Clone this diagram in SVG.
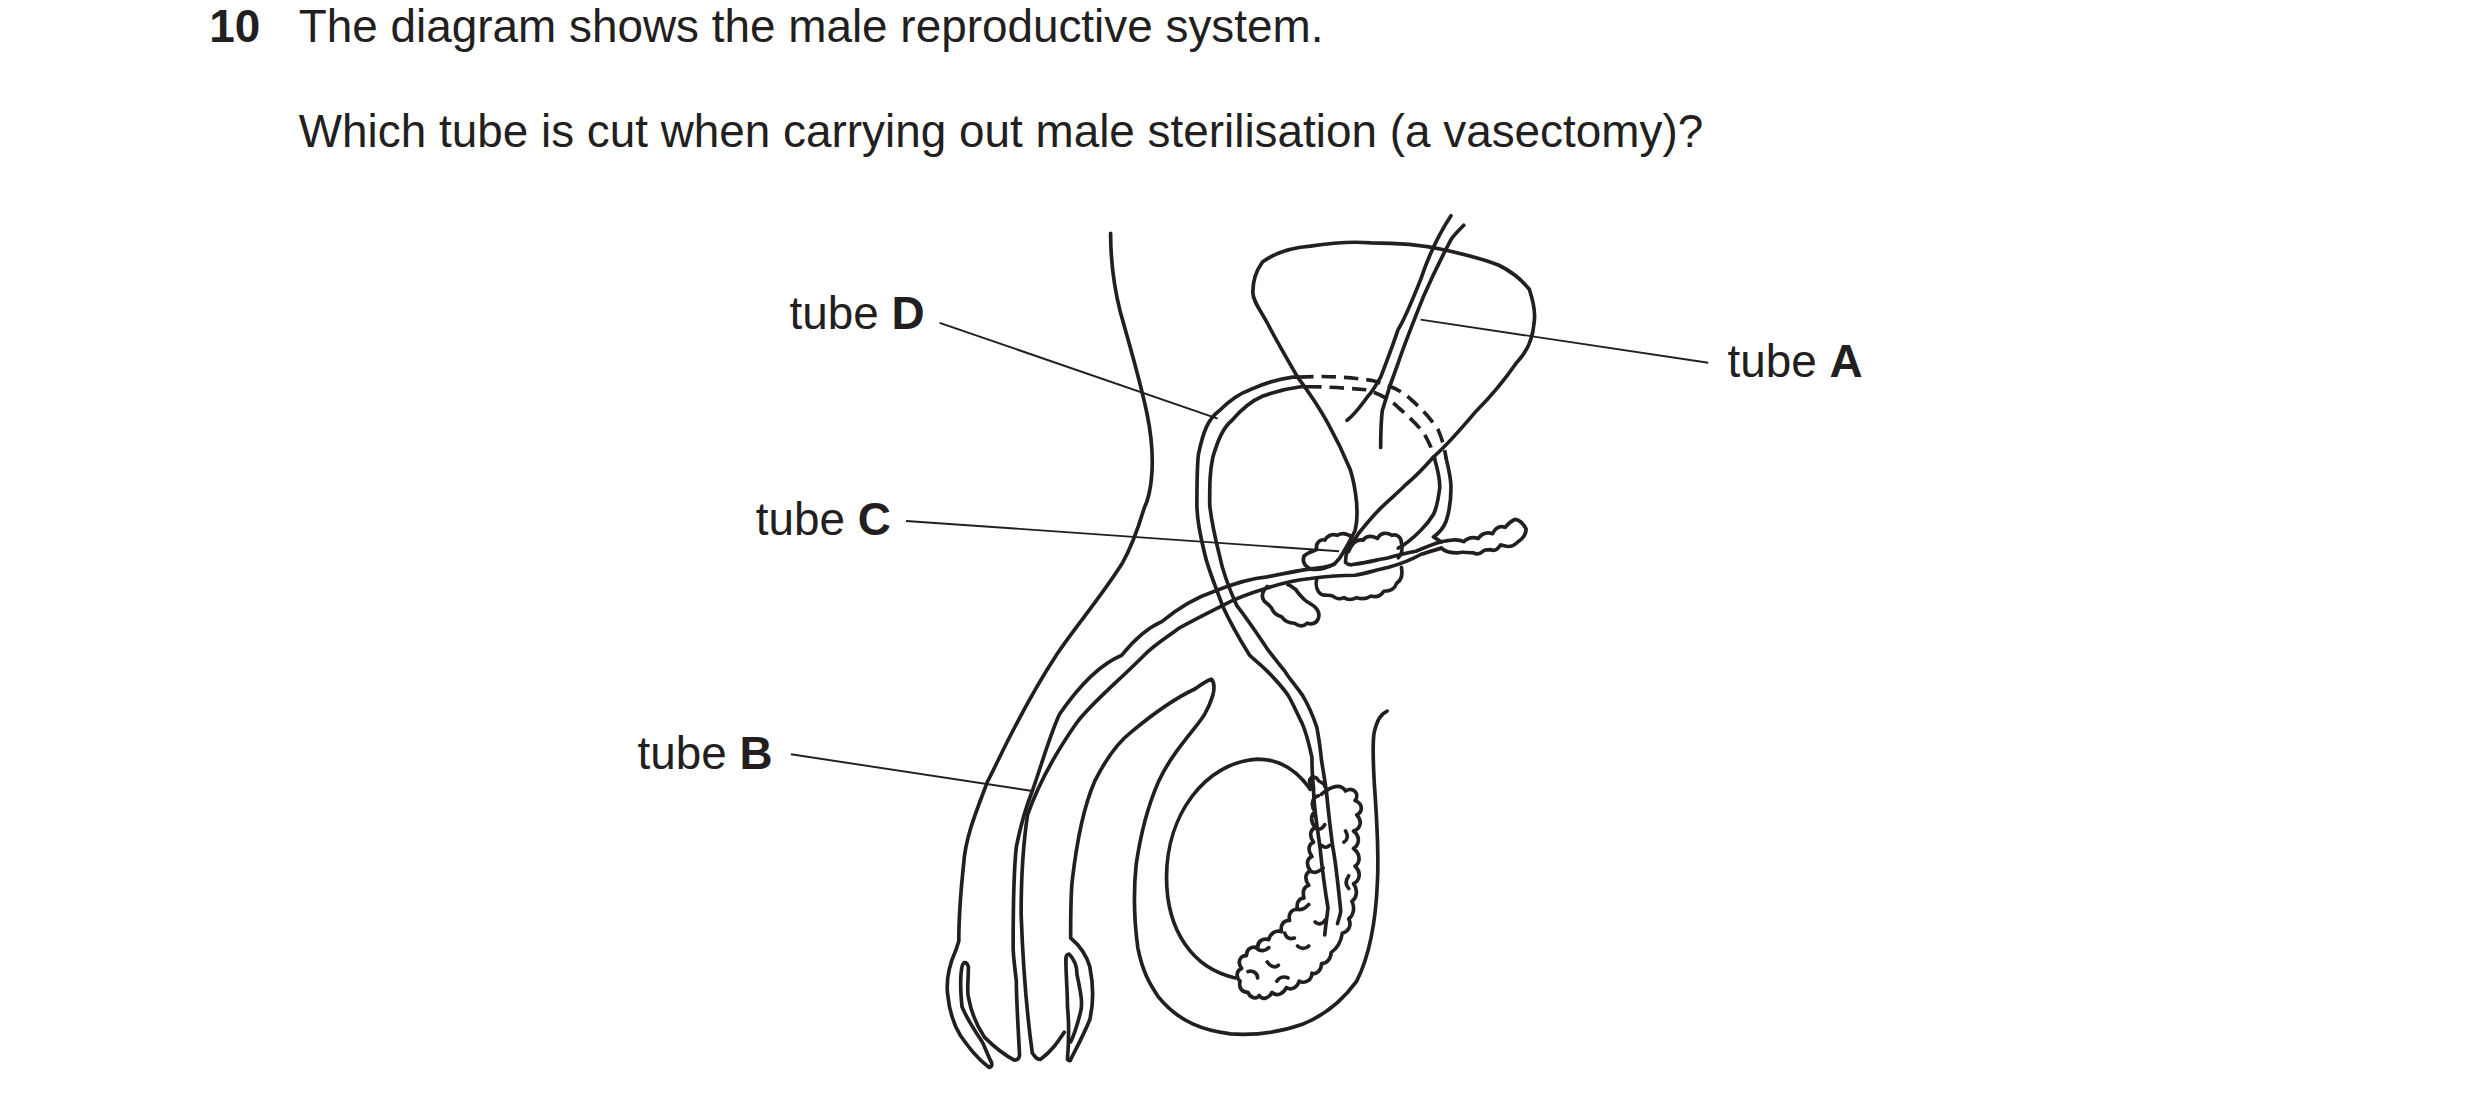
<svg xmlns="http://www.w3.org/2000/svg" width="2480" height="1102" viewBox="0 0 2480 1102">
<style>
.t{font-family:"Liberation Sans",Arial,sans-serif;font-size:28.7px;fill:#231f20}
.b{font-weight:bold}
.s{fill:none;stroke:#231f20;stroke-width:2.3;stroke-linecap:round;stroke-linejoin:round}
.d{stroke-dasharray:9 5;stroke-linecap:butt}
.l{fill:none;stroke:#231f20;stroke-width:1.2}
</style>
<rect width="2480" height="1102" fill="#fff"/>
<g transform="scale(1.598)">
<g id="question">
<text class="t b" x="131" y="26">10</text>
<text class="t" x="187" y="26">The diagram shows the male reproductive system.</text>
<text class="t" x="187" y="92">Which tube is cut when carrying out male sterilisation (a vasectomy)?</text>
</g>
<g id="drawing">
<path class="s" d="M695,146 C695,165 697,179 701,195 C708,220 714,240 718,260 C724,290 720,310 716,318 C710,338 706,346 702,353 C688,375 673,392 661,410 C638,445 623,480 618,489 C610,510 604,525 603,541 C601,560 600,578 600,589 L598,595 C594,604 592,613 593,622 C594,632 596,640 601,648 C606,655 611,662 619,668 C622,667 620,664 620,664 C617,658 616,654 614,651 C608,642 604,635 602,630 C601,620 601,610 602,605 C603,601 605,602 606,605 C606,614 605,620 606,624 C608,635 612,643 616,649 C623,656 630,661 635,663.5 C638,663 638,661 638,660 C637,640 636,625 636,614 C635,605 634,598 634,593 C634,570 634,548 636,530 C639,515 642,505 646,495 C652,478 657,460 663,447 C676,428 690,415 702,410 C710,400 718,393 727,389 C738,380 748,374 760,370 C770,366 782,362 793,361 C803,359 813,357 820,356 C828,355 832,355 835,353 C838,350 840,347 841,345 C844,340 846,336 848,332 C850,324 849,320 849,315 C848,305 847,300 845,294 C840,282 836,274 831,265 C824,252 818,244 812,236 C804,222 798,212 793,202 C788,193 784,188 784,183 C784,175 787,168 790,164 C798,158 808,155 820,154 C833,152 846,151 858,152 C873,152 888,153 902,156 C916,159 928,162 938,166 C948,171 953,176 957,181 C960,190 961,196 960,202 C959,214 954,222 949,227 C940,240 932,249 924,257 C913,270 904,280 897,286 C890,294 885,299 880,303 C874,309 869,313 864,318 C858,324 854,329 850,334 C847,339 845,342 843,345 C842,348 842,350 842,352 C843,353 845,354 848,353 C856,352 863,350 869,349 C876,347 881,346 886,345 C893,342 898,340 902,339"/>
<path class="s" d="M902,343 C895,345 892,346 889,347 C882,351 876,353 869,355 C860,357 854,359 848,360 C838,360 828,361 820,362 C810,363 802,365 793,368 C783,371 774,374 765,379 C755,384 747,388 738,393 C730,399 723,403 716,410 C698,428 683,440 674,452 C660,472 650,490 643,510 C640,530 639,550 639,572 C640,600 642,630 646,659 C648,662 649,663 651,663 C658,658 662,652 666,646"/>
<path class="s" d="M667,600 C667,610 668,620 668,630 C669,640 669,650 668,663 C669,664 670,664 670,663 C674,655 678,648 682,638 C685,625 684,615 682,605 C680,598 676,592 670,587 C670,570 670,560 671,551 C674,525 678,505 685,489 C692,475 699,465 708,458 C720,448 733,438 748,431 C752,428 755,426 758,425 C760,427 760,431 759,435 C756,445 752,450 748,455 C740,465 731,476 725,489 C718,505 714,520 711,541 C709,560 710,578 712,593 C715,608 719,615 725,624 C738,640 754,645 770,647 C786,648 801,646 815,641 C830,635 841,625 849,614 C857,598 861,578 862,551 C863,530 861,505 860,490 C859,472 859,463 860,458 C862,450 864,447 868,445"/>
<path class="s" d="M667,600 C667,598 668,597 669,597 C672,600 674,604 674,610 C676,620 678,628 676,634 C674,642 672,648 670,652"/>
<path class="s" d="M773,612 C746,606 730,582 730,549 C730,510 754,477 787,475 C802,475 813,484 820,494"/>
<path class="s" d="M829,585 C830,575 831,570 831,568 C828,550 827,540 826,530 C824,515 822,505 822,493 C821,485 821,480 821,474 C819,465 818,460 815,453 C811,445 809,440 806,435 C801,428 797,424 793,420 C788,415 785,413 782,410 C777,402 770,390 765,379 C760,365 756,356 754,347 C751,335 749,325 749,316 C749,300 749,292 750,284 C753,270 756,262 763,257 C770,250 776,246 782,244 C793,239 801,237 809,236 L813,236"/>
<path class="s" d="M837,578 C838,574 839,572 839,570 C837,550 836,540 834,530 C832,515 831,505 830,495 C829,488 828,482 827,476 C826,466 825,460 824,455 C821,446 818,440 815,435 C810,428 807,425 804,420 C800,415 796,410 793,406 C787,397 781,388 774,379 C769,368 765,357 763,347 C760,335 758,325 757,316 C757,303 757,295 759,286 C762,276 765,268 771,263 C777,256 783,251 790,248 C798,245 806,243 814,242 L818,242"/>
<path class="s d" d="M813,236 C828,235 844,236 858,238 C870,241 878,245 883,250 C890,256 896,263 900,269 C903,276 904,281 905,287"/>
<path class="s d" d="M818,242 C831,242 844,243 856,244 C864,247 870,250 875,255 C882,261 887,266 891,271 C895,278 897,283 898,288"/>
<path class="s" d="M905,287 C907,295 908,300 908,305 C908,314 907,320 905,326 C903,331 900,334 897,336 C899,337 901,339 902,339"/>
<path class="s" d="M898,288 C900,295 901,300 901,305 C900,313 899,318 897,322 C894,327 891,330 889,332 C884,337 879,341 875,343"/>
<path class="s" d="M908,135 C898,150 893,163 889,175 C883,190 879,200 875,206 C871,218 867,228 864,236 C860,243 858,246 856,248 C851,255 847,260 843,263"/>
<path class="s" d="M916,141 C911,146 909,148 908,150 C900,165 895,176 891,185 C885,200 879,215 875,227 C870,240 867,250 865,257 C864,266 864,273 864,280"/>
<path class="s" d="M902,339 C908,338 912,337 916,339 C919,336 922,336 925,337 C928,333 931,333 934,334 C936,330 939,329 942,330 C944,327 946,326 948,325 C950,325 953,327 955,331 C955,335 953,337 950,339 C948,341 946,342 944,342 C942,342 940,341 939,341 C937,344 935,345 933,344 C931,344 929,344 928,345 C926,347 924,347 922,346 C918,346 915,345 912,346 C908,346 904,345 902,343"/>
<path class="s" d="M835,353 C829,356 824,357 820,356 C816,354 815,351 816,348 C819,345 822,345 824,344 C823,340 826,337 829,338 C831,335 834,334 837,335 C840,333 843,334 846,336"/>
<path class="s" d="M844,345 C846,340 849,337 853,338 C855,335 859,335 862,337 C864,333 868,333 871,335 C874,334 877,336 877,340 C878,344 877,347 875,349"/>
<path class="s" d="M824,362 C823,366 824,370 827,372 C830,373 832,372 834,373 C836,375 839,375 841,374 C844,376 847,375 849,374 C852,375 855,375 858,373 C861,374 864,373 866,370 C870,370 873,368 874,365 C877,363 878,360 877,355"/>
<path class="s" d="M793,367 C790,370 789,373 791,376 C793,378 795,379 796,381 C797,384 799,385 802,386 C804,389 807,390 810,390 C813,392 816,392 818,390 C821,391 824,390 825,387 C826,384 825,382 823,380 C821,378 818,377 816,375 C814,373 812,371 811,369 C809,368 808,366 806,366"/>
<path class="s" d="M821,493 C818,488 820,485 824,487 C826,491 829,489 829,492 M827,497 C833,492 839,490 842,495 C847,492 851,497 848,501 C853,503 853,508 849,510 C853,514 851,519 847,520 C852,524 850,529 847,531 C852,535 851,540 848,542 C852,546 851,551 847,553 C850,557 849,562 846,564 C848,568 847,573 844,575 C846,579 844,583 840,584 C839,590 836,594 833,596 C833,600 830,603 827,603 C827,607 824,610 821,609 C821,613 817,616 813,614 C812,618 808,620 805,618 C803,622 799,624 796,621 C794,625 790,626 788,623 C786,626 782,624 781,621 C777,621 775,618 776,614 C773,611 774,607 777,606 C774,602 776,598 780,598 C780,594 783,592 787,593 C787,589 790,587 794,588 C795,584 798,582 802,583 C801,579 803,576 807,576 C806,572 808,569 812,569 C811,565 813,562 816,562 C815,558 816,555 819,554 C816,550 817,546 820,545 C817,541 818,537 821,536 C818,532 819,528 822,527 C819,523 820,519 823,518 C820,514 820,510 823,508 C820,504 821,499 825,498"/>
<path class="s" d="M823,518 C826,520 828,518 829,516 M820,545 C823,547 826,545 828,543 M811,569 C815,570 817,568 819,566 M786,593 C789,596 792,595 794,593 M781,608 C784,607 787,609 787,612 M793,602 C795,605 798,606 800,604 M799,614 C801,611 804,611 806,612 M812,592 C814,594 817,594 819,592 M823,577 C825,579 828,578 829,576 M827,529 C829,531 831,530 832,529 M804,584 C805,587 807,588 810,587 M842,520 C844,523 843,526 841,527 M844,548 C842,551 842,554 844,556"/>
</g>
<g id="labels">
<text class="t" x="494" y="206">tube <tspan class="b">D</tspan></text>
<text class="t" x="473" y="335">tube <tspan class="b">C</tspan></text>
<text class="t" x="399" y="481">tube <tspan class="b">B</tspan></text>
<text class="t" x="1081" y="236">tube <tspan class="b">A</tspan></text>
</g>
<g id="connectors">
<line class="l" x1="588" y1="202" x2="762" y2="262"/>
<line class="l" x1="567" y1="326" x2="838" y2="345"/>
<line class="l" x1="495" y1="472" x2="646" y2="495"/>
<line class="l" x1="1069" y1="227" x2="889" y2="200"/>
</g>
</g>
</svg>
